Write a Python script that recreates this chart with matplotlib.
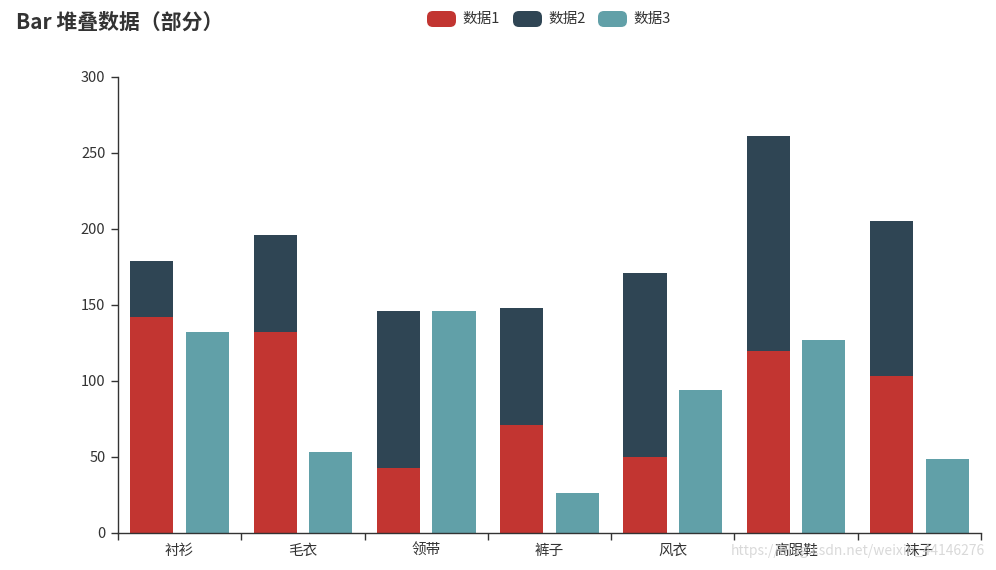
import matplotlib
matplotlib.use("Agg")
import matplotlib.pyplot as plt
from matplotlib.patches import FancyBboxPatch
import numpy as np

plt.rcParams['font.family'] = ['Noto Sans CJK SC', 'DejaVu Sans']

categories = ["衬衫", "毛衣", "领带", "裤子", "风衣", "高跟鞋", "袜子"]
series_names = ["数据1", "数据2", "数据3"]
data1 = [142, 132, 43, 71, 50, 120, 103]
data2 = [37, 64, 103, 77, 121, 141, 102]
data3 = [132, 53, 146, 26, 94, 127, 49]
y_ticks = [0, 50, 100, 150, 200, 250, 300]
colors = ["#c23531", "#2f4554", "#61a0a8"]
text_color = "#333333"

W, H = 996, 570
fig = plt.figure(figsize=(W / 100, H / 100), dpi=100)
ax = fig.add_axes([118 / W, 1 - 533 / H, (981 - 118) / W, (533 - 77) / H])

x = np.arange(len(categories))
bw = 0.35
off = 0.225
ax.bar(x - off, data1, bw, color=colors[0], zorder=2)
ax.bar(x - off, data2, bw, bottom=data1, color=colors[1], zorder=2)
ax.bar(x + off, data3, bw, color=colors[2], zorder=2)

ax.set_xlim(-0.5, len(categories) - 0.5)
ax.set_ylim(0, 300)
ax.set_yticks(y_ticks)
ax.set_yticklabels([str(v) for v in y_ticks])
ax.set_xticks(np.arange(len(categories) + 1) - 0.5)
ax.set_xticklabels([])
ax.set_xticks(x, minor=True)
ax.set_xticklabels(categories, minor=True)
ax.tick_params(axis='x', which='minor', length=0, pad=8, labelsize=10.5, labelcolor=text_color)
ax.tick_params(axis='x', which='major', length=5, width=1, color=text_color, direction='out')
ax.tick_params(axis='y', length=5, width=1, color=text_color, direction='out', pad=4,
               labelsize=10.5, labelcolor=text_color)
for s in ['top', 'right']:
    ax.spines[s].set_visible(False)
for s in ['left', 'bottom']:
    ax.spines[s].set_color(text_color)
    ax.spines[s].set_linewidth(1)

# Title
fig.text(16 / W, 1 - 22 / H, "Bar 堆叠数据（部分）", fontsize=15, fontweight='bold',
         color=text_color, ha='left', va='center')

# Legend
box_x = [427, 513, 598]
for bx, c, name in zip(box_x, colors, series_names):
    p = FancyBboxPatch((bx / W, 1 - 27 / H), 29 / W, 16 / H,
                       boxstyle="round,pad=0,rounding_size=0.006",
                       transform=fig.transFigure, facecolor=c, edgecolor='none',
                       mutation_aspect=W / H)
    fig.patches.append(p)
    fig.text((bx + 35) / W, 1 - 19 / H, name, fontsize=10.5, color=text_color,
             ha='left', va='center')

# Watermark
fig.text(985 / W, 1 - 551 / H, "https://blog.csdn.net/weixin_44146276", fontsize=10,
         color="#d0d0d0", alpha=0.8, ha='right', va='center', zorder=10)

fig.savefig("out.png", dpi=100)
